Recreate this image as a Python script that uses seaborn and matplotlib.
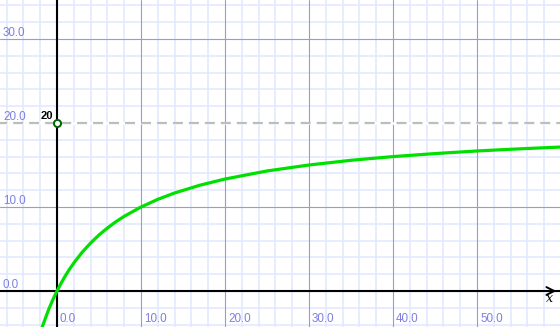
import matplotlib
matplotlib.use("Agg")
import matplotlib.pyplot as plt
import seaborn as sns
import pandas as pd
import numpy as np

# Values
curve_x = [-1.8, -1.0, -0.5, 0.0, 0.5, 1.0, 1.5, 2.0, 3.0, 4.0, 5.0, 6.0, 7.0, 8.0,
           10.0, 12.0, 14.0, 17.0, 20.0, 25.0, 30.0, 35.0, 40.0, 45.0, 50.0, 55.0, 60.0]
curve_y = [-4.39, -2.22, -1.05, 0.0, 0.95, 1.82, 2.61, 3.33, 4.62, 5.71, 6.67, 7.5, 8.24, 8.89,
           10.0, 10.91, 11.67, 12.59, 13.33, 14.29, 15.0, 15.56, 16.0, 16.36, 16.67, 16.92, 17.14]
asymptote_y = 20
point_x = [0]
point_y = [20]
point_label = "20"
x_ticks = [0, 10, 20, 30, 40, 50]
y_ticks = [0, 10, 20, 30]
x_tick_labels = ["0.0", "10.0", "20.0", "30.0", "40.0", "50.0"]
y_tick_labels = ["0.0", "10.0", "20.0", "30.0"]

sns.set_style("white")
plt.rcParams['font.family'] = ['Liberation Sans', 'DejaVu Sans']
plt.rcParams['lines.scale_dashes'] = False

W, H = 560, 327
PX = 8.4  # pixels per unit
x0px, y0px = 57, 291
xlim = (-x0px / PX, (W - x0px) / PX)
ylim = (-(H - y0px) / PX, y0px / PX)

fig = plt.figure(figsize=(W / 100, H / 100), dpi=100)
ax = fig.add_axes([0, 0, 1, 1])
ax.set_xlim(*xlim)
ax.set_ylim(*ylim)
for s in ax.spines.values():
    s.set_visible(False)
ax.set_xticks([])
ax.set_yticks([])

minor_c = "#e0e7ff"
major_c = "#9898ea"
for v in np.arange(-6, 61, 2):
    major = v % 10 == 0
    ax.axvline(v, color=major_c if major else minor_c, lw=0.8 if major else 1.1, zorder=1 if major else 0)
for v in np.arange(-4, 35, 2):
    major = v % 10 == 0
    ax.axhline(v, color=major_c if major else minor_c, lw=0.8 if major else 1.1, zorder=1 if major else 0)

# axes
ax.axhline(0, color="black", lw=1.5, zorder=3)
ax.axvline(0, color="black", lw=1.5, zorder=3)
ax.annotate("", xy=(xlim[1] - 0.1, 0), xytext=(xlim[1] - 2.5, 0),
            arrowprops=dict(arrowstyle="->", lw=1.4, color="black", mutation_scale=14), zorder=4)
ax.text(549 / PX + xlim[0], (y0px - 299) / PX, "x", style="italic", family="DejaVu Serif",
        fontsize=9, ha="center", va="center", color="black")

# tick labels
lab_c = "#7f7fe0"
for t, s in zip(x_ticks, x_tick_labels):
    ax.text(t + 3 / PX, (y0px - 322) / PX, s, color=lab_c, fontsize=8.4, ha="left", va="baseline", zorder=5)
for t, s in zip(y_ticks, y_tick_labels):
    ax.text(xlim[0] + 3 / PX, t + 3 / PX, s, color=lab_c, fontsize=8.4, ha="left", va="baseline", zorder=5)

# asymptote (white backing so the gaps look white as in the reference)
ax.axhline(asymptote_y, color="white", lw=1.8, zorder=1.5)
ax.axhline(asymptote_y, color="#bdbdbd", lw=1.6, linestyle=(2, (7.2, 4.3)), zorder=2)

# curve
df = pd.DataFrame({"x": curve_x, "y": curve_y})
sns.lineplot(data=df, x="x", y="y", ax=ax, color="#00e000", lw=2.3, sort=True, zorder=6)

# point
pdf = pd.DataFrame({"x": point_x, "y": point_y})
sns.scatterplot(data=pdf, x="x", y="y", ax=ax, s=26, color="white", edgecolor="#006400",
                linewidth=1.4, zorder=7)
ax.text(point_x[0] - 4 / PX, point_y[0] + 4 / PX, point_label, fontsize=8, fontweight="bold",
        ha="right", va="baseline", color="black", zorder=8)

ax.set_xlabel("")
ax.set_ylabel("")
ax.set_xlim(*xlim)
ax.set_ylim(*ylim)
fig.savefig("out.png", dpi=100)
